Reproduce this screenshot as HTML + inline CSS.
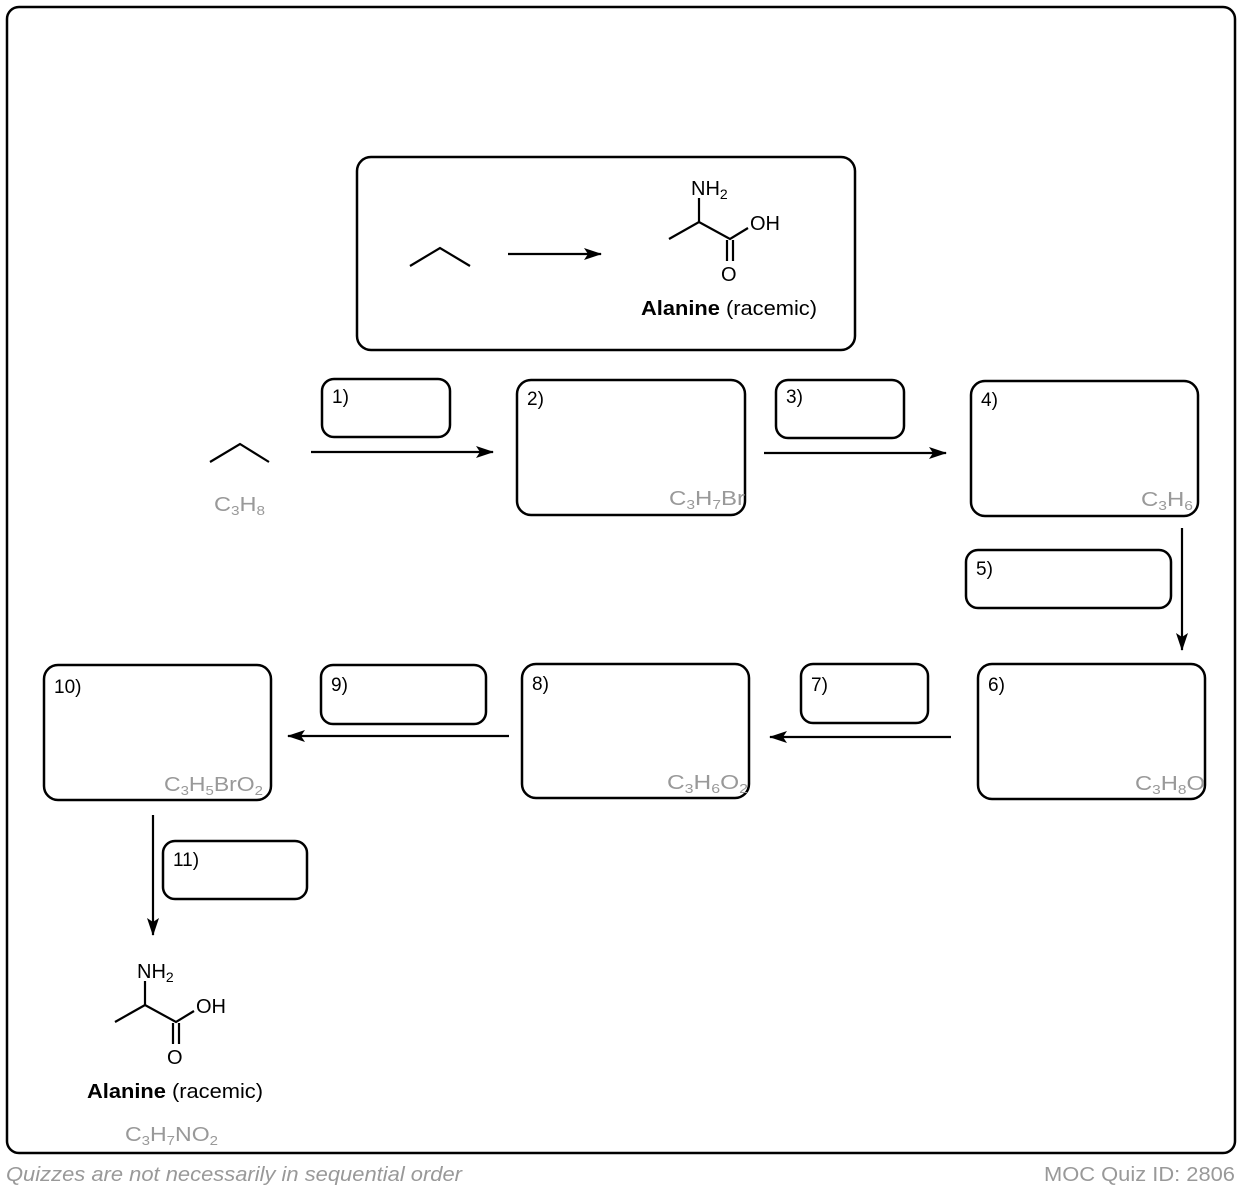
<!DOCTYPE html>
<html><head><style>
body{margin:0;background:#fff;}
svg text{font-family:"Liberation Sans",sans-serif;}
</style></head><body>
<svg width="1242" height="1190" xmlns="http://www.w3.org/2000/svg">
<defs><marker id="a" markerWidth="18" markerHeight="12" refX="17" refY="6" orient="auto" markerUnits="userSpaceOnUse"><path d="M0,0 L18,6 L0,12 L4,6 Z" fill="#000"/></marker></defs>
<g fill="none" stroke="#000" stroke-width="2.5">
<rect x="7" y="7" width="1228" height="1146" rx="12"/>
<rect x="357" y="157" width="498" height="193" rx="14"/>
<rect x="322" y="379" width="128" height="58" rx="12"/>
<rect x="517" y="380" width="228" height="135" rx="14"/>
<rect x="776" y="380" width="128" height="58" rx="12"/>
<rect x="971" y="381" width="227" height="135" rx="14"/>
<rect x="966" y="550" width="205" height="58" rx="12"/>
<rect x="978" y="664" width="227" height="135" rx="14"/>
<rect x="801" y="664" width="127" height="59" rx="12"/>
<rect x="522" y="664" width="227" height="134" rx="14"/>
<rect x="321" y="665" width="165" height="59" rx="12"/>
<rect x="44" y="665" width="227" height="135" rx="14"/>
<rect x="163" y="841" width="144" height="58" rx="12"/>
</g>
<g stroke="#000" stroke-width="2.2" fill="none">
<line x1="508" y1="254" x2="601" y2="254" marker-end="url(#a)"/>
<line x1="311" y1="452" x2="493" y2="452" marker-end="url(#a)"/>
<line x1="764" y1="453" x2="946" y2="453" marker-end="url(#a)"/>
<line x1="1182" y1="528" x2="1182" y2="650" marker-end="url(#a)"/>
<line x1="951" y1="737" x2="770" y2="737" marker-end="url(#a)"/>
<line x1="509" y1="736" x2="288" y2="736" marker-end="url(#a)"/>
<line x1="153" y1="815" x2="153" y2="935" marker-end="url(#a)"/>
<polyline points="410,266 440,248 470,266"/>
<polyline points="210,462 240,444 269,462"/>
<g>
<polyline points="669,239 699,222 730,239 748,228"/>
<line x1="699" y1="222" x2="699" y2="198"/>
<line x1="727" y1="240" x2="727" y2="261"/>
<line x1="733" y1="240" x2="733" y2="261"/>
</g>
<g transform="translate(-554,783)">
<polyline points="669,239 699,222 730,239 748,228"/>
<line x1="699" y1="222" x2="699" y2="198"/>
<line x1="727" y1="240" x2="727" y2="261"/>
<line x1="733" y1="240" x2="733" y2="261"/>
</g>
</g>
<g font-size="20" fill="#000">
<text x="691" y="195">NH<tspan font-size="14" dy="4">2</tspan></text>
<text x="750" y="230">OH</text>
<text x="721" y="281">O</text>
<text x="641" y="315" textLength="176" lengthAdjust="spacingAndGlyphs"><tspan font-weight="bold">Alanine</tspan> (racemic)</text>
<g transform="translate(-554,783)">
<text x="691" y="195">NH<tspan font-size="14" dy="4">2</tspan></text>
<text x="750" y="230">OH</text>
<text x="721" y="281">O</text>
<text x="641" y="315" textLength="176" lengthAdjust="spacingAndGlyphs"><tspan font-weight="bold">Alanine</tspan> (racemic)</text>
</g>
</g>
<g font-size="19" fill="#000">
<text x="332" y="403">1)</text>
<text x="527" y="405">2)</text>
<text x="786" y="403">3)</text>
<text x="981" y="406">4)</text>
<text x="976" y="575">5)</text>
<text x="988" y="691">6)</text>
<text x="811" y="691">7)</text>
<text x="532" y="690">8)</text>
<text x="331" y="691">9)</text>
<text x="54" y="693">10)</text>
<text x="173" y="866">11)</text>
</g>
<g font-size="20" fill="#999">
<text x="214" y="511" textLength="51" lengthAdjust="spacingAndGlyphs">C<tspan font-size="13" dy="4">3</tspan><tspan dy="-4">H</tspan><tspan font-size="13" dy="4">8</tspan></text>
<text x="669" y="505" textLength="76" lengthAdjust="spacingAndGlyphs">C<tspan font-size="13" dy="4">3</tspan><tspan dy="-4">H</tspan><tspan font-size="13" dy="4">7</tspan><tspan dy="-4">Br</tspan></text>
<text x="1141" y="506" textLength="52" lengthAdjust="spacingAndGlyphs">C<tspan font-size="13" dy="4">3</tspan><tspan dy="-4">H</tspan><tspan font-size="13" dy="4">6</tspan></text>
<text x="1135" y="790" textLength="70" lengthAdjust="spacingAndGlyphs">C<tspan font-size="13" dy="4">3</tspan><tspan dy="-4">H</tspan><tspan font-size="13" dy="4">8</tspan><tspan dy="-4">O</tspan></text>
<text x="667" y="789" textLength="81" lengthAdjust="spacingAndGlyphs">C<tspan font-size="13" dy="4">3</tspan><tspan dy="-4">H</tspan><tspan font-size="13" dy="4">6</tspan><tspan dy="-4">O</tspan><tspan font-size="13" dy="4">2</tspan></text>
<text x="164" y="791" textLength="99" lengthAdjust="spacingAndGlyphs">C<tspan font-size="13" dy="4">3</tspan><tspan dy="-4">H</tspan><tspan font-size="13" dy="4">5</tspan><tspan dy="-4">BrO</tspan><tspan font-size="13" dy="4">2</tspan></text>
<text x="125" y="1141" textLength="93" lengthAdjust="spacingAndGlyphs">C<tspan font-size="13" dy="4">3</tspan><tspan dy="-4">H</tspan><tspan font-size="13" dy="4">7</tspan><tspan dy="-4">NO</tspan><tspan font-size="13" dy="4">2</tspan></text>
</g>
<text x="6" y="1181" font-size="20" fill="#999" font-style="italic" textLength="456" lengthAdjust="spacingAndGlyphs">Quizzes are not necessarily in sequential order</text>
<text x="1044" y="1181" font-size="20" fill="#999" textLength="191" lengthAdjust="spacingAndGlyphs">MOC Quiz ID: 2806</text>
</svg>
</body></html>
